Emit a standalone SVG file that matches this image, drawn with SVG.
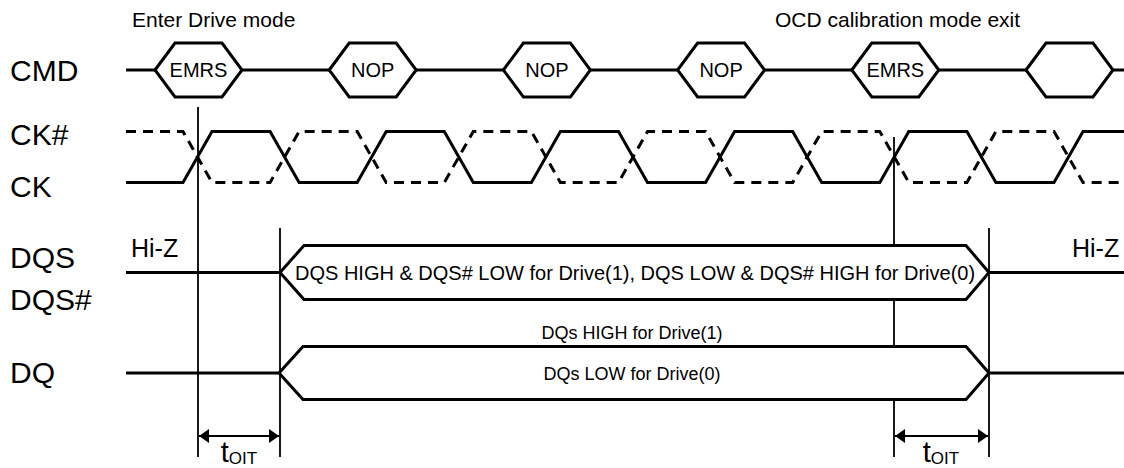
<svg xmlns="http://www.w3.org/2000/svg" width="1124" height="468" viewBox="0 0 1124 468">
<style>
text{font-family:"Liberation Sans",Arial,sans-serif;fill:#000}
.lbl{font-size:30px}
.note{font-size:21px}
.hz{font-size:25px}
.cmdt{font-size:20px;text-anchor:middle}
.sig{fill:none;stroke:#000;stroke-width:3;stroke-linejoin:miter}
.dash{fill:none;stroke:#000;stroke-width:3;stroke-dasharray:10 7}
.hex{fill:#fff;stroke:#000;stroke-width:3}
.mk{stroke:#000;stroke-width:1.8;fill:none}
.bus{fill:#fff;stroke:#000;stroke-width:3}
</style>
<defs>
<marker id="ah" viewBox="0 0 10 14" refX="10" refY="7" markerWidth="10" markerHeight="14" markerUnits="userSpaceOnUse" orient="auto-start-reverse">
<path d="M0,0 L10,7 L0,14 Z" fill="#000"/>
</marker>
<polygon id="hexshape" points="0,0 20,-27 67,-27 87,0 67,27 20,27"/>
</defs>
<rect width="1124" height="468" fill="#fff"/>

<g id="labels">
<text class="lbl" x="10" y="81">CMD</text>
<text class="lbl" x="10" y="145">CK#</text>
<text class="lbl" x="10" y="197">CK</text>
<text class="lbl" x="10" y="268">DQS</text>
<text class="lbl" x="10" y="310">DQS#</text>
<text class="lbl" x="10" y="383">DQ</text>
<text class="note" x="132" y="27">Enter Drive mode</text>
<text class="note" x="775" y="27">OCD calibration mode exit</text>
</g>

<g id="markers">
<line class="mk" x1="198" y1="107" x2="198" y2="457"/>
<line class="mk" x1="280" y1="228" x2="280" y2="457"/>
<line class="mk" x1="894" y1="137" x2="894" y2="457"/>
<line class="mk" x1="989" y1="228" x2="989" y2="457"/>
</g>

<g id="cmd">
<line class="sig" x1="126" y1="70" x2="1124" y2="70"/>
<g id="cmd-emrs1"><use href="#hexshape" class="hex" x="155" y="70"/><text class="cmdt" x="198.5" y="77">EMRS</text></g>
<g id="cmd-nop1"><use href="#hexshape" class="hex" x="329.2" y="70"/><text class="cmdt" x="372.7" y="77">NOP</text></g>
<g id="cmd-nop2"><use href="#hexshape" class="hex" x="503.4" y="70"/><text class="cmdt" x="546.9" y="77">NOP</text></g>
<g id="cmd-nop3"><use href="#hexshape" class="hex" x="677.6" y="70"/><text class="cmdt" x="721.1" y="77">NOP</text></g>
<g id="cmd-emrs2"><use href="#hexshape" class="hex" x="851.8" y="70"/><text class="cmdt" x="895.3" y="77">EMRS</text></g>
<g id="cmd-blank"><use href="#hexshape" class="hex" x="1026" y="70"/></g>
</g>

<g id="ckb">
<path class="dash" d="M126,131.5 H183 L212,182.5 H270.1 L299.1,131.5 H357.2 L386.2,182.5 H444.3 L473.3,131.5 H531.4 L560.4,182.5 H618.5 L647.5,131.5 H705.6 L734.6,182.5 H792.7 L821.7,131.5 H879.8 L908.8,182.5 H966.9 L995.9,131.5 H1054 L1083,182.5 H1124"/>
</g>
<g id="ck">
<path class="sig" d="M126,182.5 H183 L212,131.5 H270.1 L299.1,182.5 H357.2 L386.2,131.5 H444.3 L473.3,182.5 H531.4 L560.4,131.5 H618.5 L647.5,182.5 H705.6 L734.6,131.5 H792.7 L821.7,182.5 H879.8 L908.8,131.5 H966.9 L995.9,182.5 H1054 L1083,131.5 H1124"/>
</g>

<g id="dqs">
<line class="sig" x1="126" y1="272.5" x2="280" y2="272.5"/>
<line class="sig" x1="989" y1="272.5" x2="1124" y2="272.5"/>
<polygon class="bus" points="280,272.5 304,245.5 966,245.5 989,272.5 966,299.5 304,299.5"/>
<text class="hz" x="131" y="257">Hi-Z</text>
<text class="hz" x="1072" y="257">Hi-Z</text>
<text x="295" y="279.5" font-size="20">DQS HIGH &amp; DQS# LOW for Drive(1), DQS LOW &amp; DQS# HIGH for Drive(0)</text>
</g>

<g id="dq">
<line class="sig" x1="126" y1="373" x2="279" y2="373"/>
<line class="sig" x1="989" y1="373" x2="1124" y2="373"/>
<polygon class="bus" points="279,373 303,346.5 966,346.5 989,373 966,399.5 303,399.5"/>
<text x="632" y="339" font-size="18" text-anchor="middle">DQs HIGH for Drive(1)</text>
<text x="632" y="379.5" font-size="18" text-anchor="middle">DQs LOW for Drive(0)</text>
</g>

<g id="connectors">
<line class="mk" x1="199" y1="436" x2="279" y2="436" marker-start="url(#ah)" marker-end="url(#ah)"/>
<line class="mk" x1="895" y1="436" x2="988" y2="436" marker-start="url(#ah)" marker-end="url(#ah)"/>
</g>

<g id="toit">
<text x="239" y="462" font-size="29" text-anchor="middle">t<tspan font-size="17" dy="2">OIT</tspan></text>
<text x="941" y="462" font-size="29" text-anchor="middle">t<tspan font-size="17" dy="2">OIT</tspan></text>
</g>
</svg>
